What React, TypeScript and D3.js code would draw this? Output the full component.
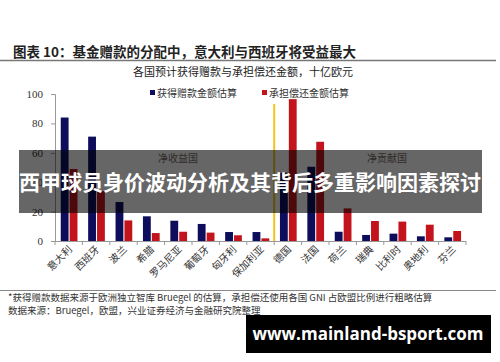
import { useRef, useEffect } from "react";
import { select, scaleBand, scaleLinear, axisLeft } from "d3";

const categories = ["意大利", "西班牙", "波兰", "希腊", "罗马尼亚", "葡萄牙", "匈牙利", "保加利亚", "德国", "法国", "荷兰", "瑞典", "比利时", "奥地利", "芬兰"];
const grants = [84, 71, 26.5, 16.8, 13.8, 11.6, 6.1, 6.1, 46.5, 50.5, 6.3, 4.1, 5, 3.2, 2.5];
const repayments = [49, 34, 14, 5.4, 6.3, 5.7, 3.9, 1.8, 96.5, 67.5, 22.2, 13.6, 13.2, 11.1, 6.8];
const seriesNames = ["获得赠款金额估算", "承担偿还金额估算"];
const yTicks = [0, 20, 40, 60, 80, 100];
const groupLabels = ["净收益国", "净贡献国"];

const W = 500;
const H = 362;
const colors = ["#0d0d5c", "#c3141d"];
const serif = "'Liberation Serif', 'Noto Sans CJK SC', serif";
const cjk = "'Noto Sans CJK SC', sans-serif";

function App() {
  const svgRef = useRef<SVGSVGElement>(null);

  useEffect(() => {
    const svg = select(svgRef.current);
    svg.selectAll("*").remove();

    const x = scaleBand<string>().domain(categories).range([55, 466]).padding(0);
    const bw = x.bandwidth();
    const x1 = scaleBand<number>().domain([0, 1]).range([bw * 0.21, bw * 0.82]).paddingInner(0.12);
    const y = scaleLinear().domain([0, 100]).range([241, 94]);

    // title
    svg.append("text").attr("x", 13).attr("y", 57).attr("font-family", cjk).attr("font-weight", 700)
      .attr("font-size", 13.5).attr("fill", "#222").text("图表 10：基金赠款的分配中，意大利与西班牙将受益最大");
    svg.append("line").attr("x1", 0).attr("x2", 496).attr("y1", 60.5).attr("y2", 60.5).attr("stroke", "#777").attr("stroke-width", 1.5);
    svg.append("text").attr("x", 243).attr("y", 76).attr("text-anchor", "middle").attr("font-family", cjk)
      .attr("font-size", 11).attr("fill", "#222").text("各国预计获得赠款与承担偿还金额，十亿欧元");

    // legend
    const lx = [150, 262];
    seriesNames.forEach((name, i) => {
      svg.append("rect").attr("x", lx[i]).attr("y", 90).attr("width", 5).attr("height", 5).attr("fill", colors[i]);
      svg.append("text").attr("x", lx[i] + 7).attr("y", 96.5).attr("font-family", cjk).attr("font-size", 10)
        .attr("fill", "#333").text(name);
    });

    // group labels
    const gx = [178, 387];
    groupLabels.forEach((t, i) => {
      svg.append("text").attr("x", gx[i]).attr("y", 162).attr("text-anchor", "middle").attr("font-family", cjk)
        .attr("font-size", 10).attr("fill", "#7a6a66").text(t);
    });

    // y axis
    const yAxis = svg.append("g").attr("transform", "translate(55,0)")
      .call(axisLeft(y).tickValues(yTicks).tickSize(4).tickPadding(8));
    yAxis.select(".domain").attr("stroke", "#999");
    yAxis.selectAll(".tick line").attr("stroke", "#999");
    yAxis.selectAll("text").attr("font-family", serif).attr("font-size", 11).attr("fill", "#333");

    // bars
    const g = svg.append("g");
    [grants, repayments].forEach((vals, si) => {
      g.selectAll(null).data(vals).join("rect")
        .attr("x", (_, i) => (x(categories[i]) ?? 0) + (x1(si) ?? 0))
        .attr("y", (d) => y(d))
        .attr("width", x1.bandwidth())
        .attr("height", (d) => y(0) - y(d))
        .attr("fill", colors[si]);
    });

    // divider between net beneficiaries and net contributors
    const divX = x("德国") ?? 0;
    svg.append("line").attr("x1", divX).attr("x2", divX).attr("y1", 104).attr("y2", y(0))
      .attr("stroke", "#f2c318").attr("stroke-width", 2);

    // x axis baseline and ticks at band edges
    svg.append("line").attr("x1", 55).attr("x2", 466).attr("y1", y(0) + 0.5).attr("y2", y(0) + 0.5).attr("stroke", "#999");
    const edges = categories.map((c) => x(c) ?? 0).concat([466]);
    svg.selectAll(null).data(edges).join("line")
      .attr("x1", (d) => d).attr("x2", (d) => d).attr("y1", y(0)).attr("y2", y(0) + 4).attr("stroke", "#999");

    svg.selectAll(null).data(categories).join("text")
      .attr("transform", (d) => `translate(${(x(d) ?? 0) + bw / 2 + 4},${y(0) + 9}) rotate(-45)`)
      .attr("text-anchor", "end").attr("font-family", cjk).attr("font-size", 10).attr("fill", "#333")
      .text((d) => d);

    // notes
    svg.append("line").attr("x1", 0).attr("x2", 496).attr("y1", 290.5).attr("y2", 290.5).attr("stroke", "#888");
    svg.append("text").attr("x", 8).attr("y", 301).attr("font-family", cjk).attr("font-size", 9.5).attr("fill", "#333")
      .text("*获得赠款数据来源于欧洲独立智库 Bruegel 的估算，承担偿还使用各国 GNI 占欧盟比例进行粗略估算");
    svg.append("text").attr("x", 8).attr("y", 314).attr("font-family", cjk).attr("font-size", 9.5).attr("fill", "#333")
      .text("数据来源：Bruegel，欧盟，兴业证券经济与金融研究院整理");

    // overlay banner
    svg.append("rect").attr("x", 19).attr("y", 150).attr("width", 463).attr("height", 63).attr("fill", "rgba(0,0,0,0.6)");
    svg.append("text").attr("x", 250).attr("y", 190).attr("text-anchor", "middle").attr("font-family", cjk)
      .attr("font-weight", 700).attr("font-size", 21).attr("fill", "#fff")
      .text("西甲球员身价波动分析及其背后多重影响因素探讨");

    // footer
    svg.append("rect").attr("x", 246).attr("y", 315).attr("width", 245).attr("height", 38).attr("fill", "#000");
    svg.append("text").attr("x", 368).attr("y", 340).attr("text-anchor", "middle").attr("font-family", "'Open Sans', sans-serif")
      .attr("font-weight", 700).attr("font-size", 17).attr("fill", "#fff").text("www.mainland-bsport.com");
  }, []);

  return (
    <svg ref={svgRef} width={W} height={H}
      style={{ position: "absolute", left: 0, top: 0, background: "#fff", display: "block" }} />
  );
}

export default App;
